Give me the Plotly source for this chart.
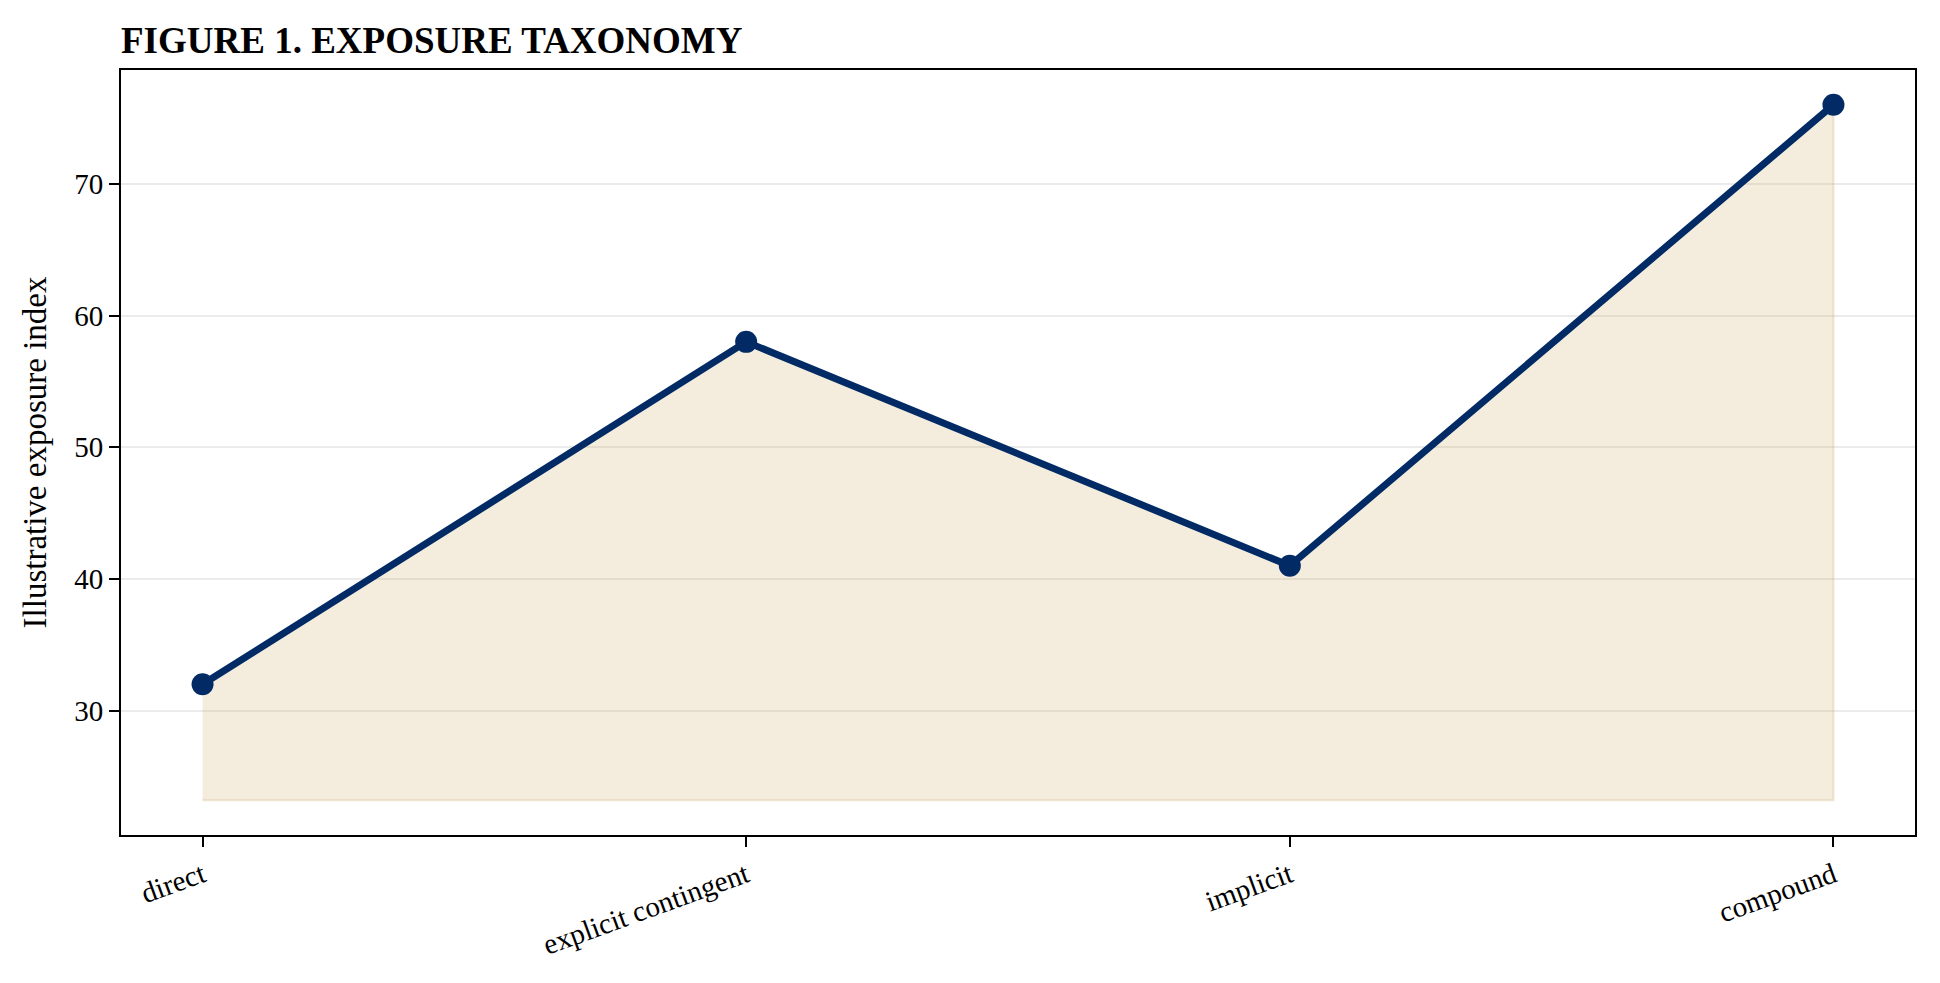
import plotly.graph_objects as go

categories = ["direct", "explicit contingent", "implicit", "compound"]
exposure = [32, 58, 41, 76]
fill_floor = 23.2
y_ticks = [30, 40, 50, 60, 70]

navy = "#022b66"
sand = "rgba(201,163,90,0.2)"
serif = "Liberation Serif, Times New Roman, serif"

fig = go.Figure()

# shaded area under the line, closed down to the floor value
fig.add_trace(go.Scatter(
    x=categories + categories[::-1],
    y=exposure + [fill_floor] * len(categories),
    fill="toself",
    fillcolor=sand,
    line=dict(color="rgba(201,163,90,0.25)", width=2),
    mode="lines",
    hoverinfo="skip",
    showlegend=False,
))

fig.add_trace(go.Scatter(
    x=categories,
    y=exposure,
    mode="lines+markers",
    line=dict(color=navy, width=7),
    marker=dict(color=navy, size=22),
    showlegend=False,
))

# page body has an 8px margin, so the margins below are shifted for it
fig.update_layout(
    width=1940, height=983,
    paper_bgcolor="white", plot_bgcolor="white",
    margin=dict(l=113, r=33, t=62, b=156),
    font=dict(family=serif, size=29, color="black"),
    title=dict(
        text="<b>FIGURE 1. EXPOSURE TAXONOMY</b>",
        x=0, xref="paper", xanchor="left",
        y=1 - 32 / 983, yref="container", yanchor="middle",
        font=dict(family=serif, size=37, color="black"),
    ),
)

fig.update_xaxes(
    type="category",
    range=[-0.15, 3.15],
    showgrid=False,
    showline=True, linecolor="black", linewidth=2, mirror=True,
    ticks="outside", ticklen=10, tickwidth=2, tickcolor="black",
    tickangle=-20,
    tickfont=dict(family=serif, size=29),
)

fig.update_yaxes(
    range=[20.56, 78.64],
    tickvals=y_ticks,
    showgrid=True, gridcolor="#ebebeb", gridwidth=2,
    zeroline=False,
    showline=True, linecolor="black", linewidth=2, mirror=True,
    ticks="outside", ticklen=10, tickwidth=2, tickcolor="black",
    tickfont=dict(family=serif, size=29),
    title=dict(text="Illustrative exposure index", standoff=18,
               font=dict(family=serif, size=33)),
)

fig.write_html("out.html")
